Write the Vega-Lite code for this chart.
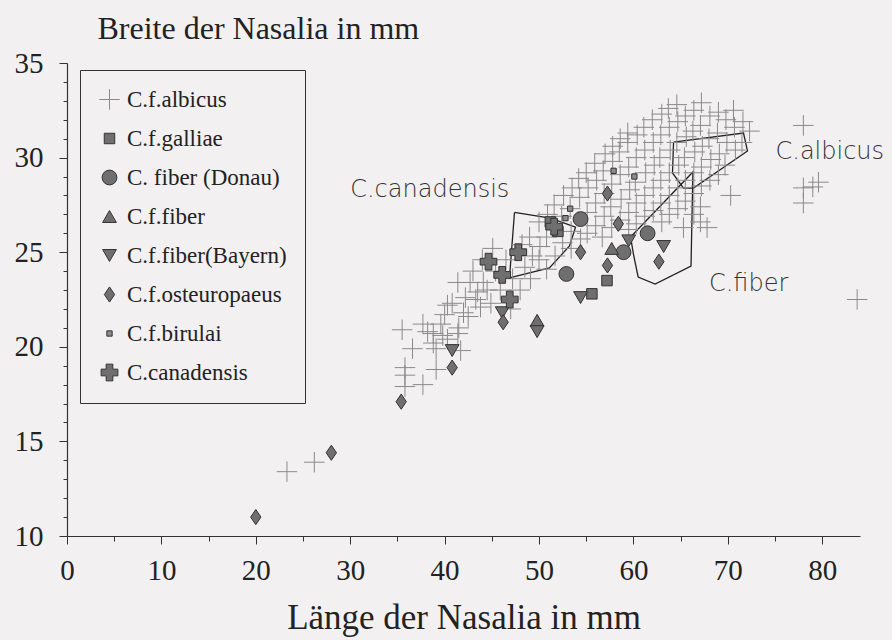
{
  "$schema": "https://vega.github.io/schema/vega-lite/v6.json",
  "width": 793,
  "height": 473,
  "autosize": {"type": "none"},
  "padding": {"left": 67, "top": 63, "right": 32, "bottom": 104},
  "background": "#f3f0f1",
  "config": {"view": {"stroke": null}},
  "datasets": {
    "pts": [
      {"s":"C.f.albicus","x":23.3,"y":13.4},{"s":"C.f.albicus","x":26.2,"y":13.9},
      {"s":"C.f.albicus","x":35.5,"y":20.9},{"s":"C.f.albicus","x":36.6,"y":19.9},{"s":"C.f.albicus","x":35.8,"y":18.9},{"s":"C.f.albicus","x":35.8,"y":18.5},{"s":"C.f.albicus","x":35.8,"y":17.9},
      {"s":"C.f.albicus","x":37.7,"y":18.0},{"s":"C.f.albicus","x":39.1,"y":18.8},{"s":"C.f.albicus","x":38.8,"y":20.7},{"s":"C.f.albicus","x":39.8,"y":20.6},{"s":"C.f.albicus","x":38.2,"y":20.8},
      {"s":"C.f.albicus","x":39.1,"y":19.9},{"s":"C.f.albicus","x":40.3,"y":22.2},{"s":"C.f.albicus","x":41.4,"y":23.4},{"s":"C.f.albicus","x":42.7,"y":23.4},{"s":"C.f.albicus","x":43.5,"y":22.9},
      {"s":"C.f.albicus","x":44.1,"y":23.4},{"s":"C.f.albicus","x":42.5,"y":21.6},{"s":"C.f.albicus","x":41.5,"y":21.0},{"s":"C.f.albicus","x":40.8,"y":22.3},{"s":"C.f.albicus","x":42.0,"y":21.8},
      {"s":"C.f.albicus","x":43.8,"y":22.1},{"s":"C.f.albicus","x":44.9,"y":22.3},{"s":"C.f.albicus","x":44.5,"y":23.0},{"s":"C.f.albicus","x":41.4,"y":20.7},{"s":"C.f.albicus","x":40.3,"y":20.4},
      {"s":"C.f.albicus","x":39.6,"y":21.2},{"s":"C.f.albicus","x":41.7,"y":19.8},{"s":"C.f.albicus","x":45.1,"y":25.2},{"s":"C.f.albicus","x":45.9,"y":23.0},{"s":"C.f.albicus","x":43.3,"y":22.5},
      {"s":"C.f.albicus","x":38.8,"y":20.2},{"s":"C.f.albicus","x":37.7,"y":21.2},{"s":"C.f.albicus","x":40.0,"y":21.7},{"s":"C.f.albicus","x":42.2,"y":22.6},{"s":"C.f.albicus","x":43.0,"y":24.0},
      {"s":"C.f.albicus","x":44.0,"y":24.6},{"s":"C.f.albicus","x":45.4,"y":24.0},{"s":"C.f.albicus","x":46.5,"y":24.6},{"s":"C.f.albicus","x":47.2,"y":23.6},{"s":"C.f.albicus","x":47.0,"y":22.0},
      {"s":"C.f.albicus","x":48.0,"y":23.0},{"s":"C.f.albicus","x":48.5,"y":24.2},{"s":"C.f.albicus","x":49.3,"y":24.8},{"s":"C.f.albicus","x":50.0,"y":24.6},{"s":"C.f.albicus","x":49.0,"y":25.8},
      {"s":"C.f.albicus","x":48.2,"y":25.4},{"s":"C.f.albicus","x":49.1,"y":23.6},{"s":"C.f.albicus","x":50.1,"y":25.3},{"s":"C.f.albicus","x":50.0,"y":26.6},
      {"s":"C.f.albicus","x":50.8,"y":24.1},{"s":"C.f.albicus","x":50.8,"y":25.8},{"s":"C.f.albicus","x":50.9,"y":27.0},{"s":"C.f.albicus","x":51.7,"y":24.8},{"s":"C.f.albicus","x":51.6,"y":27.5},
      {"s":"C.f.albicus","x":52.5,"y":25.5},{"s":"C.f.albicus","x":52.4,"y":26.9},{"s":"C.f.albicus","x":52.6,"y":28.0},
      {"s":"C.f.albicus","x":53.4,"y":26.1},{"s":"C.f.albicus","x":53.3,"y":27.3},{"s":"C.f.albicus","x":53.5,"y":28.4},{"s":"C.f.albicus","x":53.4,"y":25.2},
      {"s":"C.f.albicus","x":54.3,"y":27.9},{"s":"C.f.albicus","x":54.2,"y":28.9},{"s":"C.f.albicus","x":54.4,"y":25.7},
      {"s":"C.f.albicus","x":55.1,"y":27.1},{"s":"C.f.albicus","x":55.2,"y":28.4},{"s":"C.f.albicus","x":55.0,"y":29.2},{"s":"C.f.albicus","x":55.1,"y":26.0},
      {"s":"C.f.albicus","x":56.0,"y":27.6},{"s":"C.f.albicus","x":56.1,"y":28.8},{"s":"C.f.albicus","x":55.9,"y":29.7},{"s":"C.f.albicus","x":56.0,"y":26.4},
      {"s":"C.f.albicus","x":56.9,"y":28.1},{"s":"C.f.albicus","x":56.8,"y":29.3},{"s":"C.f.albicus","x":57.0,"y":30.2},{"s":"C.f.albicus","x":56.9,"y":26.9},{"s":"C.f.albicus","x":56.7,"y":25.8},
      {"s":"C.f.albicus","x":57.7,"y":28.6},{"s":"C.f.albicus","x":57.8,"y":29.8},{"s":"C.f.albicus","x":57.6,"y":27.4},{"s":"C.f.albicus","x":57.7,"y":26.3},{"s":"C.f.albicus","x":57.8,"y":30.6},
      {"s":"C.f.albicus","x":58.6,"y":29.1},{"s":"C.f.albicus","x":58.5,"y":30.3},{"s":"C.f.albicus","x":58.7,"y":27.8},{"s":"C.f.albicus","x":58.6,"y":26.7},{"s":"C.f.albicus","x":58.6,"y":31.0},
      {"s":"C.f.albicus","x":59.5,"y":29.5},{"s":"C.f.albicus","x":59.4,"y":30.8},{"s":"C.f.albicus","x":59.6,"y":28.3},{"s":"C.f.albicus","x":59.5,"y":27.1},{"s":"C.f.albicus","x":59.5,"y":26.2},{"s":"C.f.albicus","x":59.4,"y":31.3},
      {"s":"C.f.albicus","x":60.3,"y":30.0},{"s":"C.f.albicus","x":60.4,"y":31.2},{"s":"C.f.albicus","x":60.2,"y":28.7},{"s":"C.f.albicus","x":60.3,"y":27.6},{"s":"C.f.albicus","x":60.3,"y":26.5},
      {"s":"C.f.albicus","x":61.2,"y":30.4},{"s":"C.f.albicus","x":61.1,"y":31.6},{"s":"C.f.albicus","x":61.3,"y":29.2},{"s":"C.f.albicus","x":61.2,"y":28.0},{"s":"C.f.albicus","x":61.2,"y":26.9},
      {"s":"C.f.albicus","x":62.1,"y":30.8},{"s":"C.f.albicus","x":62.0,"y":32.0},{"s":"C.f.albicus","x":62.2,"y":29.6},{"s":"C.f.albicus","x":62.1,"y":28.4},{"s":"C.f.albicus","x":62.1,"y":27.2},
      {"s":"C.f.albicus","x":62.9,"y":31.2},{"s":"C.f.albicus","x":63.0,"y":32.3},{"s":"C.f.albicus","x":62.8,"y":30.0},{"s":"C.f.albicus","x":62.9,"y":28.8},{"s":"C.f.albicus","x":62.9,"y":27.6},{"s":"C.f.albicus","x":63.0,"y":26.6},
      {"s":"C.f.albicus","x":63.8,"y":31.6},{"s":"C.f.albicus","x":63.7,"y":32.6},{"s":"C.f.albicus","x":63.9,"y":30.4},{"s":"C.f.albicus","x":63.8,"y":29.2},{"s":"C.f.albicus","x":63.8,"y":28.0},{"s":"C.f.albicus","x":63.8,"y":27.0},
      {"s":"C.f.albicus","x":64.7,"y":31.9},{"s":"C.f.albicus","x":64.6,"y":30.8},{"s":"C.f.albicus","x":64.8,"y":29.6},{"s":"C.f.albicus","x":64.7,"y":28.4},{"s":"C.f.albicus","x":64.7,"y":27.3},{"s":"C.f.albicus","x":64.6,"y":32.8},
      {"s":"C.f.albicus","x":65.5,"y":32.2},{"s":"C.f.albicus","x":65.6,"y":31.1},{"s":"C.f.albicus","x":65.4,"y":30.0},{"s":"C.f.albicus","x":65.5,"y":28.8},{"s":"C.f.albicus","x":65.5,"y":27.7},{"s":"C.f.albicus","x":65.3,"y":26.3},
      {"s":"C.f.albicus","x":66.4,"y":32.5},{"s":"C.f.albicus","x":66.3,"y":31.4},{"s":"C.f.albicus","x":66.5,"y":30.3},{"s":"C.f.albicus","x":66.4,"y":29.2},{"s":"C.f.albicus","x":66.4,"y":28.1},{"s":"C.f.albicus","x":66.4,"y":27.0},
      {"s":"C.f.albicus","x":67.2,"y":32.9},{"s":"C.f.albicus","x":67.1,"y":31.7},{"s":"C.f.albicus","x":67.3,"y":30.6},{"s":"C.f.albicus","x":67.2,"y":29.5},{"s":"C.f.albicus","x":67.2,"y":28.5},{"s":"C.f.albicus","x":67.1,"y":27.4},{"s":"C.f.albicus","x":67.1,"y":26.6},
      {"s":"C.f.albicus","x":68.1,"y":32.2},{"s":"C.f.albicus","x":68.0,"y":31.0},{"s":"C.f.albicus","x":68.2,"y":29.9},{"s":"C.f.albicus","x":68.1,"y":28.8},{"s":"C.f.albicus","x":67.8,"y":26.3},
      {"s":"C.f.albicus","x":69.0,"y":32.4},{"s":"C.f.albicus","x":68.9,"y":31.3},{"s":"C.f.albicus","x":69.1,"y":30.2},{"s":"C.f.albicus","x":69.0,"y":29.1},
      {"s":"C.f.albicus","x":69.8,"y":32.0},{"s":"C.f.albicus","x":69.9,"y":30.8},{"s":"C.f.albicus","x":69.7,"y":29.6},{"s":"C.f.albicus","x":70.3,"y":28.0},
      {"s":"C.f.albicus","x":70.7,"y":31.6},{"s":"C.f.albicus","x":70.6,"y":32.5},{"s":"C.f.albicus","x":70.8,"y":30.4},
      {"s":"C.f.albicus","x":71.6,"y":31.9},{"s":"C.f.albicus","x":71.5,"y":30.8},{"s":"C.f.albicus","x":72.3,"y":31.4},
      {"s":"C.f.albicus","x":78.0,"y":31.7},{"s":"C.f.albicus","x":78.0,"y":28.4},{"s":"C.f.albicus","x":79.0,"y":28.45},{"s":"C.f.albicus","x":79.6,"y":28.7},{"s":"C.f.albicus","x":78.0,"y":27.6},{"s":"C.f.albicus","x":83.7,"y":22.5},
      {"s":"C.f.galliae","x":51.2,"y":26.6},{"s":"C.f.galliae","x":52.0,"y":26.1},{"s":"C.f.galliae","x":55.6,"y":22.8},{"s":"C.f.galliae","x":57.2,"y":23.5},
      {"s":"C. fiber (Donau)","x":54.4,"y":26.75},{"s":"C. fiber (Donau)","x":61.5,"y":26.0},{"s":"C. fiber (Donau)","x":58.95,"y":25.0},{"s":"C. fiber (Donau)","x":52.9,"y":23.85},
      {"s":"C.f.fiber","x":57.7,"y":25.2},{"s":"C.f.fiber","x":49.8,"y":21.4},
      {"s":"C.f.fiber(Bayern)","x":40.8,"y":19.8},{"s":"C.f.fiber(Bayern)","x":46.1,"y":21.8},{"s":"C.f.fiber(Bayern)","x":49.8,"y":20.8},{"s":"C.f.fiber(Bayern)","x":54.4,"y":22.6},{"s":"C.f.fiber(Bayern)","x":59.5,"y":25.6},{"s":"C.f.fiber(Bayern)","x":63.2,"y":25.3},
      {"s":"C.f.osteuropaeus","x":20.0,"y":11.0},{"s":"C.f.osteuropaeus","x":28.0,"y":14.4},{"s":"C.f.osteuropaeus","x":35.4,"y":17.1},{"s":"C.f.osteuropaeus","x":40.8,"y":18.9},{"s":"C.f.osteuropaeus","x":46.2,"y":21.3},
      {"s":"C.f.osteuropaeus","x":54.4,"y":25.0},{"s":"C.f.osteuropaeus","x":57.25,"y":24.3},{"s":"C.f.osteuropaeus","x":58.4,"y":26.5},{"s":"C.f.osteuropaeus","x":62.7,"y":24.5},{"s":"C.f.osteuropaeus","x":57.25,"y":28.1},
      {"s":"C.f.birulai","x":53.3,"y":27.3},{"s":"C.f.birulai","x":52.8,"y":26.8},{"s":"C.f.birulai","x":57.9,"y":29.3},{"s":"C.f.birulai","x":60.1,"y":29.0},
      {"s":"C.canadensis","x":44.65,"y":24.5},{"s":"C.canadensis","x":46.1,"y":23.8},{"s":"C.canadensis","x":47.8,"y":25.0},{"s":"C.canadensis","x":46.9,"y":22.5},{"s":"C.canadensis","x":51.6,"y":26.35}
    ],
    "poly": [
      {"g":"can","i":0,"x":47.4,"y":27.1},{"g":"can","i":1,"x":51.2,"y":26.8},{"g":"can","i":2,"x":53.87,"y":26.33},{"g":"can","i":3,"x":53.23,"y":25.33},{"g":"can","i":4,"x":51.1,"y":24.17},{"g":"can","i":5,"x":46.87,"y":23.64},{"g":"can","i":6,"x":47.4,"y":27.1},
      {"g":"fib","i":0,"x":59.7,"y":25.8},{"g":"fib","i":1,"x":66.3,"y":29.24},{"g":"fib","i":2,"x":66.1,"y":24.27},{"g":"fib","i":3,"x":62.3,"y":23.32},{"g":"fib","i":4,"x":60.5,"y":23.69},{"g":"fib","i":5,"x":60.0,"y":24.9},{"g":"fib","i":6,"x":59.7,"y":25.8},
      {"g":"alb","i":0,"x":64.25,"y":30.82},{"g":"alb","i":1,"x":71.66,"y":31.3},{"g":"alb","i":2,"x":72.08,"y":30.35},{"g":"alb","i":3,"x":66.36,"y":28.39},{"g":"alb","i":4,"x":65.3,"y":28.39},{"g":"alb","i":5,"x":64.14,"y":29.19},{"g":"alb","i":6,"x":64.25,"y":30.82}
    ],
    "labels": [
      {"t":"C.canadensis","x":30.0,"y":28.3},
      {"t":"C.fiber","x":68.0,"y":23.3},
      {"t":"C.albicus","x":75.05,"y":30.3}
    ]
  },
  "encoding": {
    "x": {
      "field": "x", "type": "quantitative",
      "scale": {"domain": [0, 84], "nice": false, "zero": false},
      "axis": {
        "title": "Länge der Nasalia in mm",
        "values": [0,5,10,15,20,25,30,35,40,45,50,55,60,65,70,75,80],
        "labelExpr": "datum.value % 10 === 0 ? datum.label : ''",
        "tickSize": {"condition": {"test": "datum.value % 10 === 0", "value": 8}, "value": 5},
        "labelOverlap": false, "labelFlush": false,
        "grid": false,
        "domainColor": "#333", "tickColor": "#333", "domainWidth": 1.2,
        "labelFont": "Liberation Serif", "labelFontSize": 29, "labelColor": "#222", "labelPadding": 12,
        "titleFont": "Liberation Serif", "titleFontSize": 35, "titleFontWeight": "normal", "titleColor": "#222",
        "titleBaseline": "alphabetic", "titleY": 92
      }
    },
    "y": {
      "field": "y", "type": "quantitative",
      "scale": {"domain": [10, 35], "nice": false, "zero": false},
      "axis": {
        "title": "Breite der Nasalia in mm",
        "values": [10,11,12,13,14,15,16,17,18,19,20,21,22,23,24,25,26,27,28,29,30,31,32,33,34,35],
        "labelExpr": "datum.value % 5 === 0 ? datum.label : ''",
        "tickSize": {"condition": {"test": "datum.value % 5 === 0", "value": 8}, "value": 4},
        "labelOverlap": false, "labelFlush": false,
        "grid": false,
        "domainColor": "#333", "tickColor": "#333", "domainWidth": 1.2,
        "labelFont": "Liberation Serif", "labelFontSize": 29, "labelColor": "#222", "labelPadding": 16,
        "titleFont": "Liberation Serif", "titleFontSize": 32, "titleFontWeight": "normal", "titleColor": "#222",
        "titleAngle": 0, "titleAlign": "left", "titleBaseline": "alphabetic", "titleX": 30, "titleY": -25
      }
    }
  },
  "layer": [
    {
      "data": {"name": "poly"},
      "mark": {"type": "line", "stroke": "#222", "strokeWidth": 1.3},
      "encoding": {
        "detail": {"field": "g", "type": "nominal"},
        "order": {"field": "i", "type": "quantitative"}
      }
    },
    {
      "data": {"name": "pts"},
      "mark": {"type": "point", "filled": true, "opacity": 1, "strokeWidth": 1},
      "encoding": {
        "shape": {
          "field": "s", "type": "nominal",
          "scale": {
            "domain": ["C.f.albicus","C.f.galliae","C. fiber (Donau)","C.f.fiber","C.f.fiber(Bayern)","C.f.osteuropaeus","C.f.birulai","C.canadensis"],
            "range": ["M-1,0H1M0,-1V1","square","circle","triangle-up","triangle-down","M0,-1L0.68,0L0,1L-0.68,0Z","square","cross"]
          },
          "legend": {
            "title": null, "orient": "none", "legendX": 13, "legendY": 7,
            "strokeColor": "#333", "fillColor": "#f3f0f1", "padding": 18,
            "labelFont": "Liberation Serif", "labelFontSize": 23, "labelColor": "#222",
            "labelOffset": 6, "rowPadding": 15, "symbolStrokeWidth": 1, "labelLimit": 400
          }
        },
        "size": {
          "field": "s", "type": "nominal",
          "scale": {
            "type": "ordinal",
            "domain": ["C.f.albicus","C.f.galliae","C. fiber (Donau)","C.f.fiber","C.f.fiber(Bayern)","C.f.osteuropaeus","C.f.birulai","C.canadensis"],
            "range": [420, 110, 220, 190, 190, 230, 28, 280]
          }
        },
        "fill": {
          "field": "s", "type": "nominal",
          "scale": {
            "domain": ["C.f.albicus","C.f.galliae","C. fiber (Donau)","C.f.fiber","C.f.fiber(Bayern)","C.f.osteuropaeus","C.f.birulai","C.canadensis"],
            "range": ["transparent","#6f6f6f","#6f6f6f","#6f6f6f","#6f6f6f","#6f6f6f","#8c8c8c","#6f6f6f"]
          }
        },
        "stroke": {
          "field": "s", "type": "nominal",
          "scale": {
            "domain": ["C.f.albicus","C.f.galliae","C. fiber (Donau)","C.f.fiber","C.f.fiber(Bayern)","C.f.osteuropaeus","C.f.birulai","C.canadensis"],
            "range": ["#8a8a8a","#333333","#333333","#333333","#333333","#333333","#333333","#333333"]
          }
        }
      }
    },
    {
      "data": {"name": "labels"},
      "mark": {"type": "text", "align": "left", "baseline": "middle", "font": "DejaVu Sans", "fontWeight": 200, "fontSize": 24, "fill": "#333"},
      "encoding": {
        "text": {"field": "t", "type": "nominal"}
      }
    }
  ]
}
